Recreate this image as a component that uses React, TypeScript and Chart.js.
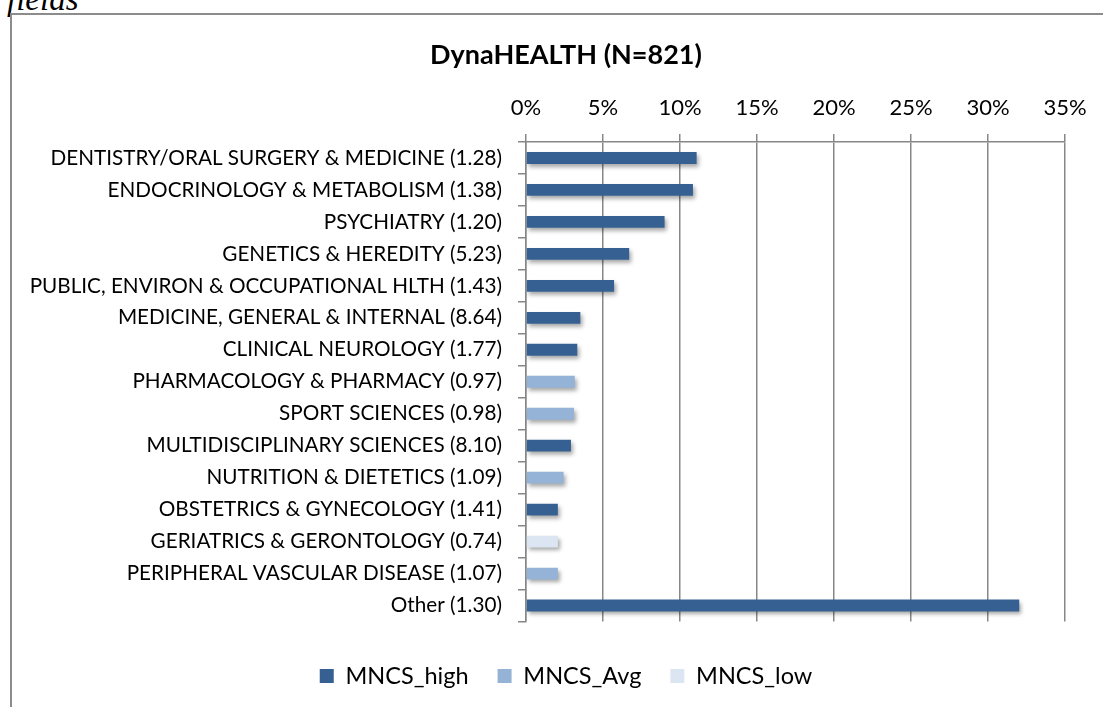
import React, { useEffect, useRef } from 'react';
import { Chart, registerables } from 'chart.js';

Chart.register(...registerables);

const categories = [
  'DENTISTRY/ORAL SURGERY & MEDICINE (1.28)',
  'ENDOCRINOLOGY & METABOLISM (1.38)',
  'PSYCHIATRY (1.20)',
  'GENETICS & HEREDITY (5.23)',
  'PUBLIC, ENVIRON & OCCUPATIONAL HLTH (1.43)',
  'MEDICINE, GENERAL & INTERNAL (8.64)',
  'CLINICAL NEUROLOGY (1.77)',
  'PHARMACOLOGY & PHARMACY (0.97)',
  'SPORT SCIENCES (0.98)',
  'MULTIDISCIPLINARY SCIENCES (8.10)',
  'NUTRITION & DIETETICS (1.09)',
  'OBSTETRICS & GYNECOLOGY (1.41)',
  'GERIATRICS & GERONTOLOGY (0.74)',
  'PERIPHERAL VASCULAR DISEASE (1.07)',
  'Other (1.30)',
];

const mncsHigh = [11.08, 10.84, 9.0, 6.7, 5.72, 3.53, 3.33, null, null, 2.92, null, 2.07, null, null, 32.03];
const mncsAvg = [null, null, null, null, null, null, null, 3.17, 3.12, null, 2.44, null, null, 2.07, null];
const mncsLow = [null, null, null, null, null, null, null, null, null, null, null, null, 2.07, null, null];

const seriesNames = ['MNCS_high', 'MNCS_Avg', 'MNCS_low'];
const seriesColors = ['#376092', '#95B3D7', '#DCE6F2'];
const xTickValues = [0, 5, 10, 15, 20, 25, 30, 35];

const FONT = 'Lato, "Open Sans", sans-serif';
const GRID = '#878787';

const shadowPlugin = {
  id: 'barShadow',
  beforeDatasetsDraw(chart: any) {
    const c = chart.ctx;
    c.save();
    c.shadowColor = 'rgba(0,0,0,0.35)';
    c.shadowBlur = 4;
    c.shadowOffsetX = 2;
    c.shadowOffsetY = 3;
  },
  afterDatasetsDraw(chart: any) {
    chart.ctx.restore();
  },
};

export default function App() {
  const ref = useRef<HTMLCanvasElement | null>(null);

  useEffect(() => {
    if (!ref.current) return;
    const chart = new Chart(ref.current, {
      type: 'bar',
      data: {
        labels: categories,
        datasets: [mncsHigh, mncsAvg, mncsLow].map((d, i) => ({
          label: seriesNames[i],
          data: d,
          backgroundColor: seriesColors[i],
          borderWidth: 0,
          barPercentage: 0.37,
          categoryPercentage: 1,
        })),
      },
      plugins: [shadowPlugin],
      options: {
        indexAxis: 'y',
        animation: false,
        responsive: false,
        devicePixelRatio: 1,
        layout: { padding: { left: 67, right: 38, top: 0, bottom: 9.25 } },
        plugins: {
          title: {
            display: true,
            text: 'DynaHEALTH (N=821)',
            color: '#000',
            font: { family: FONT, size: 27, weight: 'bold', lineHeight: 1.2 },
            padding: { top: 39, bottom: 10 },
          },
          legend: {
            display: true,
            position: 'bottom',
            title: { display: true, text: '', font: { size: 10, lineHeight: '13.75px' }, padding: 0 },
            labels: {
              color: '#000',
              font: { family: FONT, size: 23.5 },
              boxWidth: 14,
              boxHeight: 14,
              padding: 29,
            },
          },
          tooltip: { enabled: false },
        },
        scales: {
          x: {
            position: 'top',
            stacked: true,
            min: 0,
            max: 35,
            afterBuildTicks: (scale: any) => {
              scale.ticks = xTickValues.map((v) => ({ value: v }));
            },
            afterFit: (scale: any) => {
              scale.height = 60.6;
            },
            ticks: {
              color: '#000',
              font: { family: FONT, size: 22 },
              padding: 13,
              callback: (v: any) => `${v}%`,
            },
            grid: { color: GRID, lineWidth: 1.5, drawTicks: true, tickLength: 8 },
            border: { display: true, color: GRID, width: 1.5 },
          },
          y: {
            stacked: true,
            afterFit: (scale: any) => {
              scale.width = 459;
              scale._computeLabelArea = () => null;
            },
            ticks: {
              color: '#000',
              font: { family: FONT, size: 20.7 },
              padding: 16,
              autoSkip: false,
            },
            grid: { drawOnChartArea: false, drawTicks: true, tickLength: 8, color: GRID, lineWidth: 1.5, offset: true },
            border: { display: true, color: GRID, width: 1.5 },
          },
        },
      } as any,
    });
    return () => chart.destroy();
  }, []);

  return (
    <div
      style={{
        position: 'fixed',
        left: 0,
        top: 0,
        width: 1103,
        height: 707,
        overflow: 'hidden',
        background: '#fff',
      }}
    >
      <div
        style={{
          position: 'absolute',
          left: 7,
          top: -17,
          fontFamily: '"Liberation Serif", serif',
          fontStyle: 'italic',
          fontSize: 33,
          lineHeight: '33px',
          color: '#000',
          whiteSpace: 'nowrap',
        }}
      >
        fields
      </div>
      <div
        style={{
          position: 'absolute',
          left: 10,
          top: 13,
          width: 1200,
          height: 800,
          borderTop: '2px solid #8c8c8c',
          borderLeft: '2px solid #8c8c8c',
          boxSizing: 'border-box',
        }}
      />
      <canvas ref={ref} width={1103} height={707} style={{ position: 'absolute', left: 0, top: 0 }} />
    </div>
  );
}
